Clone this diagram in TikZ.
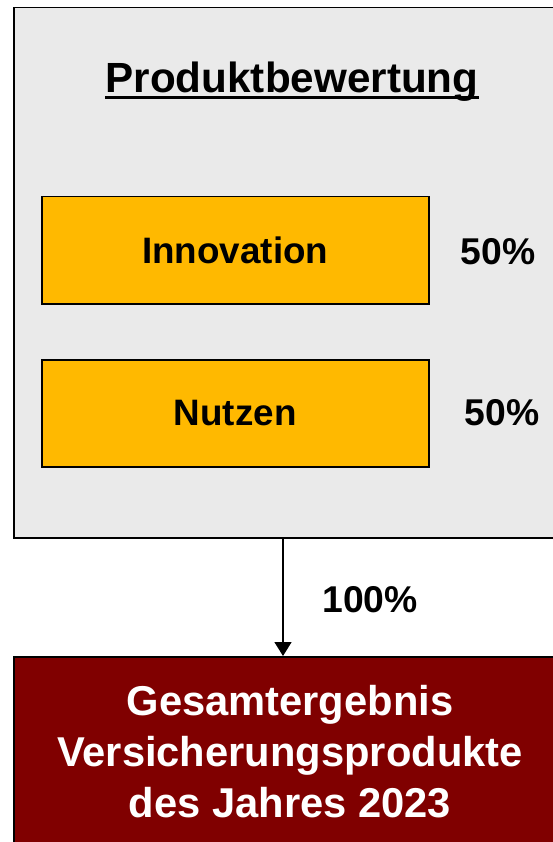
\documentclass[tikz,border=0pt]{standalone}
\usepackage{fontspec}
\setmainfont{Liberation Sans}
\usetikzlibrary{arrows.meta}
\definecolor{panelgray}{HTML}{EAEAEA}
\definecolor{boxorange}{HTML}{FFB900}
\definecolor{darkred}{HTML}{800000}
\tikzset{
  panel/.style={draw=black, line width=1.5pt, fill=panelgray, anchor=north west, inner sep=0pt},
  itembox/.style={draw=black, line width=1.5pt, fill=boxorange, anchor=north west, inner sep=0pt,
    minimum width=387pt, minimum height=107pt},
  itemlabel/.style={font=\bfseries\fontsize{36.8}{42}\selectfont, text=black, inner sep=0pt},
  pct/.style={font=\bfseries\fontsize{37.3}{42}\selectfont, text=black, inner sep=0pt},
  resultbox/.style={draw=black, line width=1.5pt, fill=darkred, anchor=north west, inner sep=0pt},
  resulttext/.style={font=\bfseries\fontsize{41.7}{51}\selectfont, text=white, align=center, inner sep=0pt},
  flow/.style={draw=black, line width=1.5pt, -{Triangle[width=17pt,length=14pt]}}
}
\begin{document}
\begin{tikzpicture}[x=1pt,y=-1pt]
\useasboundingbox (0,0) rectangle (553,842);
\clip (0,0) rectangle (553,842);
\node[panel, minimum width=554pt, minimum height=530pt] (panel) at (13,7) {};
\node[font=\bfseries\fontsize{42.2}{48}\selectfont, inner sep=0pt, anchor=base] (title) at (292,93) {Produktbewertung};
\draw[line width=2.5pt] ([yshift=-4.5pt]title.base west) -- ([yshift=-4.5pt]title.base east);
\node[itembox] (innov) at (41,196) {};
\node[itemlabel] (innovlab) at (innov.center) {Innovation};
\node[itembox] (nutzen) at (41,359) {};
\node[itemlabel] (nutzenlab) at (nutzen.center) {Nutzen};
\node[pct] (p1) at (498,252) {50\%};
\node[pct] (p2) at (502,413) {50\%};
\node[resultbox, minimum width=554pt, minimum height=200pt] (result) at (13,656) {};
\node[resulttext, anchor=base] (restext) at (290,817) {Gesamtergebnis\\Versicherungsprodukte\\des Jahres 2023};
\coordinate (arrstart) at (283,537);
\coordinate (arrend) at (283,656);
\draw[flow] (arrstart) -- (arrend);
\node[pct] (p3) at (370,600) {100\%};
\end{tikzpicture}
\end{document}
